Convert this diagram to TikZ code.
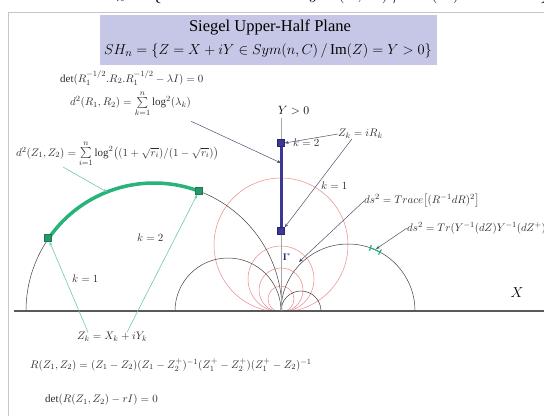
\documentclass[tikz,border=0pt]{standalone}
\usepackage{amsmath}
\usepackage{fontspec}
\setmainfont{Liberation Serif}
\usetikzlibrary{arrows.meta}

\definecolor{lavender}{RGB}{198,198,230}
\definecolor{geogreen}{RGB}{40,180,120}
\definecolor{geodark}{RGB}{30,120,80}
\definecolor{purpleline}{RGB}{60,55,150}
\definecolor{redcirc}{RGB}{235,135,135}
\definecolor{linkteal}{RGB}{110,200,170}
\definecolor{linkgray}{RGB}{80,80,110}
\definecolor{inkgray}{RGB}{45,45,45}

\tikzset{
  formula/.style={anchor=west, inner sep=0pt, text=inkgray, font=\fontsize{11}{12}\selectfont},
  link/.style={linkgray, line width=0.5pt, -{Stealth[length=4pt,width=3pt]}},
  tealink/.style={linkteal, line width=0.6pt, -{Stealth[length=4pt,width=3pt]}},
  gsq/.style={draw=geodark, fill=geogreen!85!black, minimum size=7pt, inner sep=0pt},
  psq/.style={draw=purpleline!70!black, fill=purpleline, minimum size=7pt, inner sep=0pt},
}

\begin{document}
\begin{tikzpicture}[x=1pt,y=-1pt]
	\useasboundingbox (0,0) rectangle (544,416);
	% title of the slide above, cut off
	\begin{scope}
		\clip (0,0) rectangle (544,12);
		\node[anchor=base, font=\fontsize{22}{24}\selectfont] (prev) at (318,-2) {$SH_n = \{Z = X + iY \in Sym(n,C)\,/\,\mathrm{Im}(Z) = Y > 0\}$};
	\end{scope}
	\draw[gray!45, line width=1pt] (8,416) -- (8,12) -- (544,12);

	% title
	\node[fill=lavender, minimum width=337pt, minimum height=50pt, inner sep=0pt] (title) at (268.5,40) {};
	\node[font=\fontsize{16.5}{18}\selectfont] (tline) at (270,27) {Siegel Upper-Half Plane};
	\node[font=\fontsize{15}{17}\selectfont] (sh) at (268,51) {$SH_n = \{Z = X + iY \in Sym(n,C)\,/\,\mathrm{Im}(Z) = Y > 0\}$};

	% circles of the half plane
	\begin{scope}
		\clip (0,0) rectangle (544,311);
		\foreach \cy/\r in {245/67, 279/33, 290/22, 299/13}
			\draw[redcirc, line width=0.5pt] (281,\cy) circle (\r pt);
		\foreach \cx/\r in {154/128, 228/53, 348/67, 301/20}
			\draw[black!75, line width=0.5pt] (\cx,311) circle (\r pt);
	\end{scope}
	\draw[black!65, line width=2.5pt] (14,311) -- (544,311);
	\node[font=\fontsize{14}{16}\selectfont] (xlab) at (517,293) {$X$};
	\draw[gray!70, line width=0.6pt] (281,118) -- (281,311);
	\node[anchor=west, inner sep=0pt, font=\fontsize{13}{15}\selectfont] (ypos) at (278,111) {$Y > 0$};

	% geodesic on the Y axis
	\draw[purpleline, line width=3pt] (281,143) -- (281,231);
	\node[psq] (r2) at (281,143) {};
	\node[psq] (r1) at (281,231) {};
	\coordinate (pline) at (281,163);
	\node[inner sep=0pt, text=purpleline!80!black, font=\fontsize{10}{11}\selectfont] (ident) at (287,257) {$\mathbf{I}^{*}$};
	\coordinate (ypt) at (299,262);

	% geodesic on a half circle
	\draw[geogreen, line width=3.5pt] (154,311) ++(145.5:128pt) arc[start angle=145.5, end angle=69.4, radius=128pt];
	\node[gsq] (z1) at (48,238) {};
	\node[gsq] (z2) at (199,191) {};
	\coordinate (garc) at (107,192);
	\draw[geogreen, line width=1.2pt, {Bar[width=6pt]}-{Bar[width=6pt]}] (348,311) ++(71:67pt) arc[start angle=71, end angle=61, radius=67pt];
	\coordinate (ds) at (376,249);

	% formulas
	\node[formula] (detR) at (60,78) {$\det(R_1^{-1/2}.R_2.R_1^{-1/2} - \lambda I) = 0$};
	\node[formula] (dR) at (70,104) {$d^2(R_1,R_2) = \sum\limits_{k=1}^{n}\log^2(\lambda_k)$};
	\node[formula] (dZ) at (16,154) {$d^2(Z_1,Z_2) = \sum\limits_{i=1}^{n}\log^2\bigl((1+\sqrt{r_i})/(1-\sqrt{r_i})\bigr)$};
	\node[formula] (zr) at (338,134) {$Z_k = iR_k$};
	\node[formula] (k2a) at (293,143) {$k=2$};
	\node[formula] (k1a) at (321,186) {$k=1$};
	\node[formula] (trace) at (364,201) {$ds^2 = Trace\bigl[(R^{-1}dR)^2\bigr]$};
	\node[formula] (trz) at (407,228) {$ds^2 = Tr(Y^{-1}(dZ)Y^{-1}(dZ^{+})$};
	\node[formula] (k2b) at (137,238) {$k=2$};
	\node[formula] (k1b) at (72,279) {$k=1$};
	\node[formula] (zx) at (77,337) {$Z_k = X_k + iY_k$};
	\node[formula] (rz) at (30,365) {$R(Z_1,Z_2) = (Z_1-Z_2)(Z_1-Z_2^{+})^{-1}(Z_1^{+}-Z_2^{+})(Z_1^{+}-Z_2)^{-1}$};
	\node[formula] (detr) at (45,400) {$\det(R(Z_1,Z_2) - rI) = 0$};

	% connectors
	\draw[link] (zr.west) -- (r2.east);
	\draw[link] ([xshift=14pt]zr.south west) -- (r1.north east);
	\draw[link] ([yshift=-4pt]dR.south east) -- (pline);
	\draw[link] (trace.west) -- (ypt);
	\draw[link] (trz.west) -- (ds);
	\draw[tealink] (63,167) -- (garc);
	\draw[tealink] ([xshift=11pt]zx.north west) -- (z1);
	\draw[tealink] ([xshift=50pt]zx.north west) -- (z2);
\end{tikzpicture}
\end{document}
